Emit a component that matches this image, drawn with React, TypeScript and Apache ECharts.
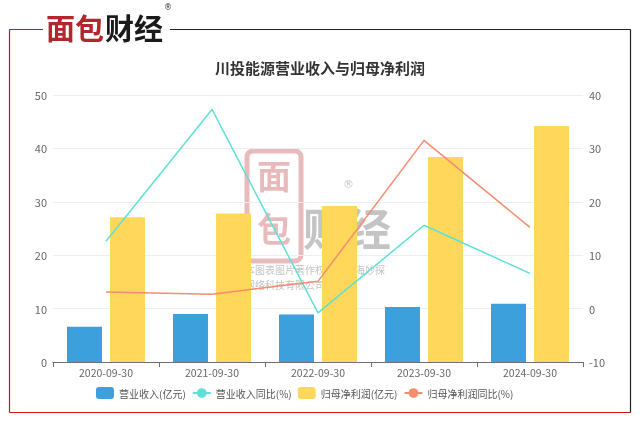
import React, { useEffect, useRef } from "react";
import * as echarts from "echarts";

const categories = ["2020-09-30", "2021-09-30", "2022-09-30", "2023-09-30", "2024-09-30"];
const revenue = [6.6, 9.0, 8.9, 10.3, 10.9];
const revenueYoY = [12.6, 37.3, -0.8, 15.6, 6.6];
const netProfit = [27.1, 27.8, 29.2, 38.4, 44.2];
const netProfitYoY = [3.1, 2.7, 5.1, 31.5, 15.2];
const seriesNames = ["营业收入(亿元)", "营业收入同比(%)", "归母净利润(亿元)", "归母净利润同比(%)"];
const title = "川投能源营业收入与归母净利润";

const FONT = "'Noto Sans CJK SC', 'Noto Sans', sans-serif";

export default function App() {
  const ref = useRef<HTMLDivElement>(null);
  useEffect(() => {
    if (!ref.current) return;
    const chart = echarts.init(ref.current, undefined, { renderer: "svg" });
    const wmOpacity = 0.35;
    chart.setOption({
      animation: false,
      textStyle: { fontFamily: FONT },
      title: {
        text: title,
        left: "center",
        top: 55,
        textStyle: { fontSize: 15, fontWeight: "bold", color: "#333", fontFamily: FONT },
      },
      grid: { left: 53, right: 57, top: 95, bottom: 62 },
      legend: {
        top: 382,
        left: 91,
        itemWidth: 18,
        itemHeight: 12,
        itemGap: 6,
        textStyle: { fontSize: 10, color: "#555", fontFamily: FONT },
        data: [
          { name: seriesNames[0], icon: "roundRect" },
          { name: seriesNames[1] },
          { name: seriesNames[2], icon: "roundRect" },
          { name: seriesNames[3] },
        ],
      },
      xAxis: {
        type: "category",
        data: categories,
        axisLine: { lineStyle: { color: "#6E7079" } },
        axisTick: { show: true, alignWithLabel: false },
        axisLabel: { color: "#666", fontSize: 10.5, margin: 5 },
      },
      yAxis: [
        {
          type: "value",
          min: 0,
          max: 50,
          interval: 10,
          axisLabel: { color: "#666", fontSize: 11, margin: 6 },
          splitLine: { lineStyle: { color: "#eceef2" } },
          axisLine: { show: false },
        },
        {
          type: "value",
          min: -10,
          max: 40,
          interval: 10,
          axisLabel: { color: "#666", fontSize: 11, margin: 6 },
          splitLine: { show: false },
          axisLine: { show: false },
        },
      ],
      series: [
        {
          name: seriesNames[0],
          type: "bar",
          data: revenue,
          barWidth: 35,
          barGap: "23%",
          itemStyle: { color: "#3ba0dc" },
        },
        {
          name: seriesNames[1],
          type: "line",
          yAxisIndex: 1,
          data: revenueYoY,
          showSymbol: false,
          symbol: "circle",
          symbolSize: 8,
          lineStyle: { width: 1.5, color: "#5fe0d6" },
          itemStyle: { color: "#5fe0d6" },
          z: 3,
        },
        {
          name: seriesNames[2],
          type: "bar",
          data: netProfit,
          barWidth: 35,
          barGap: "23%",
          itemStyle: { color: "#fed75b" },
        },
        {
          name: seriesNames[3],
          type: "line",
          yAxisIndex: 1,
          data: netProfitYoY,
          showSymbol: false,
          symbol: "circle",
          symbolSize: 8,
          lineStyle: { width: 1.5, color: "#f68c6e" },
          itemStyle: { color: "#f68c6e" },
          z: 3,
        },
      ],
      graphic: [
        // frame
        { type: "line", shape: { x1: 9.5, y1: 29.5, x2: 43, y2: 29.5 }, style: { stroke: "#c8161d", lineWidth: 1.2 } },
        { type: "line", shape: { x1: 9.5, y1: 29.5, x2: 9.5, y2: 412.5 }, style: { stroke: "#c8161d", lineWidth: 1.2 } },
        { type: "line", shape: { x1: 9.5, y1: 412.5, x2: 630.5, y2: 412.5 }, style: { stroke: "#c8161d", lineWidth: 1.2 } },
        { type: "line", shape: { x1: 170, y1: 29.5, x2: 630.5, y2: 29.5 }, style: { stroke: "#222", lineWidth: 1.2 } },
        { type: "line", shape: { x1: 630.5, y1: 29.5, x2: 630.5, y2: 412.5 }, style: { stroke: "#222", lineWidth: 1.2 } },
        // logo
        { type: "text", x: 46, y: 12, style: { text: "面包", font: `bold 29px ${FONT}`, fill: "#b3262b" } },
        { type: "text", x: 105, y: 12, style: { text: "财经", font: `bold 29px ${FONT}`, fill: "#1a1a1a" } },
        { type: "text", x: 164, y: 3, style: { text: "®", font: `8px 'DejaVu Sans', sans-serif`, fill: "#333" } },
        // watermark
        {
          type: "group",
          z: 100,
          children: [
            { type: "rect", shape: { x: 247, y: 151, width: 54, height: 110, r: 6 }, style: { fill: "none", stroke: "#c0393f", lineWidth: 5, opacity: wmOpacity } },
            { type: "text", x: 257, y: 157, style: { text: "面", font: `bold 34px ${FONT}`, fill: "#c0393f", opacity: wmOpacity } },
            { type: "text", x: 257, y: 210, style: { text: "包", font: `bold 34px ${FONT}`, fill: "#c0393f", opacity: wmOpacity } },
            { type: "text", x: 303, y: 205, style: { text: "财经", font: `bold 44px ${FONT}`, fill: "#555", opacity: wmOpacity } },
            { type: "text", x: 343, y: 179, style: { text: "®", font: `11px 'DejaVu Sans', sans-serif`, fill: "#555", opacity: wmOpacity } },
            { type: "text", x: 245, y: 264, style: { text: "本图表图片著作权属于上海妙探", font: `10px ${FONT}`, fill: "#777", opacity: 0.45 } },
            { type: "text", x: 245, y: 279, style: { text: "网络科技有限公司", font: `10px ${FONT}`, fill: "#777", opacity: 0.45 } },
          ],
        },
      ],
    });
    return () => chart.dispose();
  }, []);
  return <div ref={ref} style={{ position: "fixed", left: 0, top: 0, width: 640, height: 424 }} />;
}
